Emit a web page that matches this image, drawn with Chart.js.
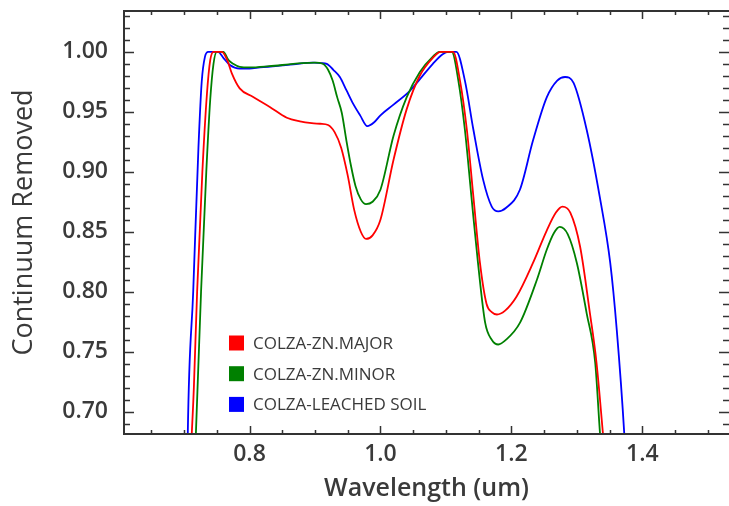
<!DOCTYPE html>
<html>
<head>
<meta charset="utf-8">
<script src="https://cdn.jsdelivr.net/npm/chart.js@4.4.1/dist/chart.umd.min.js"></script>
<style>
  html, body { margin: 0; padding: 0; background: #fff; }
</style>
</head>
<body>
<canvas id="spectraChart" width="729" height="506"></canvas>
<script>
// Continuum removed spectra
const seriesNames = ['COLZA-ZN.MAJOR', 'COLZA-ZN.MINOR', 'COLZA-LEACHED SOIL'];
const seriesColors = ['#ff0000', '#008000', '#0000ff'];

const majorWl = [0.700, 0.709, 0.715, 0.720, 0.728, 0.735, 0.740, 0.745, 0.758, 0.766, 0.773, 0.785, 0.805, 0.831, 0.857, 0.877, 0.895, 0.908, 0.920, 0.930, 0.940, 0.950, 0.960, 0.970, 0.978, 0.988, 1.000, 1.020, 1.040, 1.060, 1.080, 1.092, 1.111, 1.1215, 1.132, 1.142, 1.152, 1.162, 1.170, 1.178, 1.190, 1.208, 1.233, 1.254, 1.268, 1.278, 1.290, 1.305, 1.320, 1.330, 1.340, 1.350];
const majorVal = [0.40, 0.64, 0.72, 0.80, 0.90, 0.965, 0.993, 1.0, 1.0, 0.993, 0.982, 0.9695, 0.9625, 0.954, 0.945, 0.942, 0.9405, 0.940, 0.939, 0.933, 0.920, 0.897, 0.868, 0.850, 0.844, 0.847, 0.860, 0.910, 0.952, 0.980, 0.995, 1.0, 1.0, 0.976, 0.935, 0.879, 0.824, 0.790, 0.783, 0.781, 0.784, 0.796, 0.824, 0.851, 0.866, 0.871, 0.866, 0.8375, 0.782, 0.741, 0.681, 0.62];

const minorWl = [0.705, 0.712, 0.718, 0.726, 0.734, 0.740, 0.745, 0.750, 0.760, 0.768, 0.775, 0.785, 0.800, 0.830, 0.860, 0.880, 0.900, 0.912, 0.920, 0.927, 0.934, 0.941, 0.948, 0.955, 0.962, 0.970, 0.978, 0.988, 1.000, 1.020, 1.040, 1.060, 1.080, 1.090, 1.109, 1.119, 1.129, 1.139, 1.149, 1.160, 1.170, 1.180, 1.192, 1.213, 1.239, 1.254, 1.265, 1.274, 1.286, 1.300, 1.315, 1.328, 1.3355, 1.345];
const minorVal = [0.40, 0.60, 0.68, 0.80, 0.90, 0.96, 0.99, 1.0, 1.0, 0.993, 0.990, 0.9875, 0.987, 0.988, 0.9895, 0.9905, 0.991, 0.990, 0.985, 0.976, 0.962, 0.949, 0.926, 0.905, 0.888, 0.877, 0.873, 0.875, 0.885, 0.930, 0.962, 0.983, 0.996, 1.0, 1.0, 0.976, 0.935, 0.879, 0.824, 0.774, 0.760, 0.756, 0.760, 0.774, 0.810, 0.835, 0.849, 0.854, 0.848, 0.824, 0.782, 0.741, 0.681, 0.62];

const soilWl = [0.700, 0.7057, 0.714, 0.722, 0.727, 0.732, 0.737, 0.752, 0.760, 0.770, 0.785, 0.800, 0.816, 0.840, 0.867, 0.897, 0.910, 0.918, 0.928, 0.938, 0.948, 0.958, 0.969, 0.980, 0.990, 1.000, 1.020, 1.045, 1.060, 1.080, 1.095, 1.104, 1.116, 1.129, 1.142, 1.157, 1.170, 1.180, 1.192, 1.213, 1.233, 1.254, 1.270, 1.282, 1.295, 1.315, 1.335, 1.351, 1.361, 1.3725, 1.380];
const soilVal = [0.40, 0.681, 0.80, 0.92, 0.975, 0.996, 1.0, 1.0, 0.995, 0.989, 0.986, 0.986, 0.987, 0.988, 0.9895, 0.991, 0.9905, 0.990, 0.985, 0.979, 0.968, 0.957, 0.947, 0.938, 0.941, 0.947, 0.956, 0.9675, 0.977, 0.990, 0.998, 1.0, 1.0, 0.976, 0.935, 0.893, 0.871, 0.867, 0.870, 0.885, 0.926, 0.962, 0.976, 0.979, 0.974, 0.935, 0.879, 0.824, 0.768, 0.681, 0.60];

// axis ranges and tick labels
const xMin = 0.6083, xMax = 1.5324;
const yMin = 0.6814, yMax = 1.034;
const xTickLabels = [0.8, 1.0, 1.2, 1.4];
const yTickLabels = [0.70, 0.75, 0.80, 0.85, 0.90, 0.95, 1.00];
const xMinorStep = 0.05, yMinorStep = 0.01;

const textColor = '#3a3a3a';

const toPoints = (wl, val) => wl.map((x, i) => ({ x: x, y: val[i] }));

// Box frame with inward ticks on all four sides
const frameTicks = {
  id: 'frameTicks',
  afterDatasetsDraw(chart) {
    const { ctx, chartArea: a, scales: { x, y } } = chart;
    ctx.save();
    ctx.strokeStyle = '#333';
    ctx.lineWidth = 2;
    ctx.strokeRect(a.left, a.top, a.right + 1 - a.left, a.bottom - a.top);

    ctx.lineWidth = 1.5;
    ctx.beginPath();
    const kx0 = Math.ceil(xMin / xMinorStep), kx1 = Math.floor(xMax / xMinorStep);
    for (let k = kx0; k <= kx1; k++) {
      const px = Math.round(x.getPixelForValue(k * xMinorStep)) + 0.5;
      const len = k % 4 === 0 ? 8 : 4;
      ctx.moveTo(px, a.bottom); ctx.lineTo(px, a.bottom - len);
      ctx.moveTo(px, a.top); ctx.lineTo(px, a.top + len);
    }
    const ky0 = Math.ceil(yMin / yMinorStep), ky1 = Math.floor(yMax / yMinorStep);
    for (let k = ky0; k <= ky1; k++) {
      const py = Math.round(y.getPixelForValue(k * yMinorStep)) + 0.5;
      const len = k % 5 === 0 ? 10 : 6;
      ctx.moveTo(a.left, py); ctx.lineTo(a.left + len, py);
      ctx.moveTo(a.right, py); ctx.lineTo(a.right - len, py);
    }
    ctx.stroke();
    ctx.restore();
  }
};

// Legend drawn inside the plot, lower left
const boxLegend = {
  id: 'boxLegend',
  afterDraw(chart, args, opts) {
    const { ctx } = chart;
    ctx.save();
    ctx.font = opts.font;
    ctx.textBaseline = 'middle';
    chart.data.datasets.forEach((ds, i) => {
      const cy = opts.top + i * opts.rowGap;
      ctx.fillStyle = ds.borderColor;
      ctx.fillRect(opts.left, cy - opts.box / 2, opts.box, opts.box);
      ctx.fillStyle = textColor;
      ctx.fillText(ds.label, opts.left + opts.box + 9, cy + 1);
    });
    ctx.restore();
  }
};

const ctx = document.getElementById('spectraChart').getContext('2d');
const spectraChart = new Chart(ctx, {
  type: 'line',
  data: {
    datasets: [
      { label: seriesNames[0], data: toPoints(majorWl, majorVal), borderColor: seriesColors[0] },
      { label: seriesNames[1], data: toPoints(minorWl, minorVal), borderColor: seriesColors[1] },
      { label: seriesNames[2], data: toPoints(soilWl, soilVal), borderColor: seriesColors[2] }
    ]
  },
  options: {
    responsive: false,
    animation: false,
    devicePixelRatio: 1,
    layout: { padding: { top: 11, right: 0, left: 0, bottom: 0 } },
    elements: {
      line: { borderWidth: 1.8, cubicInterpolationMode: 'monotone', fill: false },
      point: { radius: 0 }
    },
    plugins: {
      legend: { display: false },
      tooltip: { enabled: false },
      boxLegend: { left: 229, top: 343, rowGap: 30.7, box: 15, font: '17px "Open Sans"' }
    },
    scales: {
      x: {
        type: 'linear',
        min: xMin,
        max: xMax,
        afterBuildTicks: (s) => { s.ticks = xTickLabels.map(v => ({ value: v })); },
        afterFit: (s) => { s.height = 72; s.paddingLeft = 0; s.paddingRight = 0; },
        grid: { display: false, drawTicks: false },
        border: { display: false },
        ticks: {
          padding: 7,
          color: textColor,
          font: { family: 'Open Sans', size: 23, weight: '600' },
          callback: (v) => v.toFixed(1)
        },
        title: {
          display: true,
          text: 'Wavelength (um)',
          color: textColor,
          font: { family: 'Open Sans', size: 25, weight: '600' },
          padding: { top: 0, bottom: 2 }
        }
      },
      y: {
        min: yMin,
        max: yMax,
        afterBuildTicks: (s) => { s.ticks = yTickLabels.map(v => ({ value: v })); },
        afterFit: (s) => { s.width = 124; s.paddingTop = 0; s.paddingBottom = 0; },
        grid: { display: false, drawTicks: false },
        border: { display: false },
        ticks: {
          padding: 16,
          color: textColor,
          font: { family: 'Open Sans', size: 23, weight: '600' },
          callback: (v) => v.toFixed(2)
        },
        title: {
          display: true,
          text: 'Continuum Removed',
          color: textColor,
          font: { family: 'Open Sans', size: 27 },
          padding: { top: 8, bottom: 0 }
        }
      }
    }
  },
  plugins: [frameTicks, boxLegend]
});
</script>
</body>
</html>
